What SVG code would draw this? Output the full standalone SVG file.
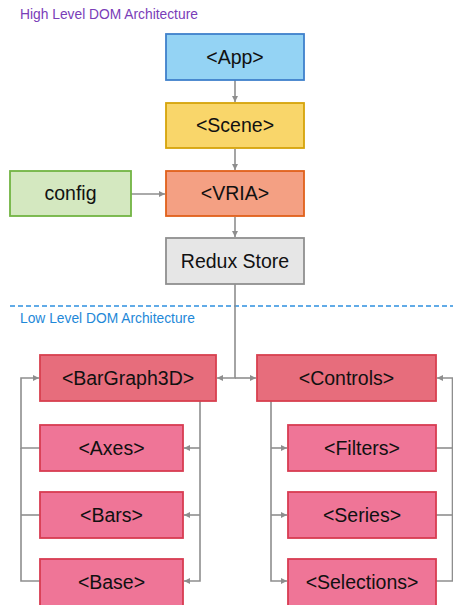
<svg xmlns="http://www.w3.org/2000/svg" width="453" height="605" viewBox="0 0 453 605">
  <style>
    .lbl { font-family: "Liberation Sans", Arial, sans-serif; font-size: 19.5px; fill: #111; text-anchor: middle; }
    .sec { font-family: "Liberation Sans", Arial, sans-serif; font-size: 13.8px; }
    .box { stroke-width: 1.8; }
    .parent { fill: #E76D7C; stroke: #D8404F; }
    .child { fill: #EF7597; stroke: #D83C52; }
    .conn { fill: none; stroke: #8E8E8E; stroke-width: 1.6; }
  </style>
  <defs>
    <marker id="arr" markerUnits="userSpaceOnUse" markerWidth="7" markerHeight="7" refX="6" refY="3" orient="auto">
      <path d="M0,0 L6,3 L0,6 z" fill="#8E8E8E"/>
    </marker>
  </defs>
  <rect width="453" height="605" fill="#fff"/>

  <text class="sec" x="20" y="19" fill="#7A3DB8">High Level DOM Architecture</text>
  <line x1="10" y1="306" x2="453" y2="306" stroke="#2E90E0" stroke-width="1.5" stroke-dasharray="5,3"/>
  <text class="sec" x="20" y="323" fill="#1E88D8">Low Level DOM Architecture</text>

  <g id="connectors">
    <path class="conn" d="M235,80 V102" marker-end="url(#arr)"/>
    <path class="conn" d="M235,149 V170" marker-end="url(#arr)"/>
    <path class="conn" d="M131,194 H165" marker-end="url(#arr)"/>
    <path class="conn" d="M235,217 V237" marker-end="url(#arr)"/>
    <path class="conn" d="M235,284 V378 H217" marker-end="url(#arr)"/>
    <path class="conn" d="M235,378 H256" marker-end="url(#arr)"/>
    <path class="conn" d="M40,448 H21 V378 H39" marker-end="url(#arr)"/>
    <path class="conn" d="M40,515 H21"/>
    <path class="conn" d="M40,581 H21 V448"/>
    <path class="conn" d="M200,401 V581 H184" marker-end="url(#arr)"/>
    <path class="conn" d="M200,448 H184" marker-end="url(#arr)"/>
    <path class="conn" d="M200,515 H184" marker-end="url(#arr)"/>
    <path class="conn" d="M271,401 V581 H287" marker-end="url(#arr)"/>
    <path class="conn" d="M271,448 H287" marker-end="url(#arr)"/>
    <path class="conn" d="M271,515 H287" marker-end="url(#arr)"/>
    <path class="conn" d="M436,581 H452.5 V378 H437" marker-end="url(#arr)"/>
    <path class="conn" d="M436,448 H452.5"/>
    <path class="conn" d="M436,515 H452.5"/>
  </g>

  <g id="app">
    <rect class="box" x="166" y="34" width="138" height="46" fill="#94D3F4" stroke="#3F80CB"/>
    <text class="lbl" x="235" y="64">&lt;App&gt;</text>
  </g>
  <g id="scene">
    <rect class="box" x="166" y="103" width="138" height="45" fill="#F9D66A" stroke="#D5A40B"/>
    <text class="lbl" x="235" y="132">&lt;Scene&gt;</text>
  </g>
  <g id="config">
    <rect class="box" x="10" y="171" width="121" height="45" fill="#D4E8C0" stroke="#72B443"/>
    <text class="lbl" x="70.5" y="200">config</text>
  </g>
  <g id="vria">
    <rect class="box" x="166" y="171" width="138" height="45" fill="#F4A083" stroke="#E0601A"/>
    <text class="lbl" x="235" y="200">&lt;VRIA&gt;</text>
  </g>
  <g id="redux">
    <rect class="box" x="166" y="238" width="138" height="46" fill="#E6E6E6" stroke="#8F8F8F"/>
    <text class="lbl" x="235" y="268">Redux Store</text>
  </g>

  <g id="bargraph3d">
    <rect class="box parent" x="40" y="355" width="176" height="46"/>
    <text class="lbl" x="128" y="385">&lt;BarGraph3D&gt;</text>
  </g>
  <g id="controls">
    <rect class="box parent" x="257" y="355" width="179" height="46"/>
    <text class="lbl" x="346.5" y="385">&lt;Controls&gt;</text>
  </g>
  <g id="axes">
    <rect class="box child" x="40" y="425" width="143" height="46"/>
    <text class="lbl" x="111.5" y="455">&lt;Axes&gt;</text>
  </g>
  <g id="bars">
    <rect class="box child" x="40" y="492" width="143" height="46"/>
    <text class="lbl" x="111.5" y="522">&lt;Bars&gt;</text>
  </g>
  <g id="base">
    <rect class="box child" x="40" y="559" width="143" height="48"/>
    <text class="lbl" x="111.5" y="589">&lt;Base&gt;</text>
  </g>
  <g id="filters">
    <rect class="box child" x="288" y="425" width="148" height="46"/>
    <text class="lbl" x="362" y="455">&lt;Filters&gt;</text>
  </g>
  <g id="series">
    <rect class="box child" x="288" y="492" width="148" height="46"/>
    <text class="lbl" x="362" y="522">&lt;Series&gt;</text>
  </g>
  <g id="selections">
    <rect class="box child" x="288" y="559" width="148" height="48"/>
    <text class="lbl" x="362" y="589">&lt;Selections&gt;</text>
  </g>
</svg>
